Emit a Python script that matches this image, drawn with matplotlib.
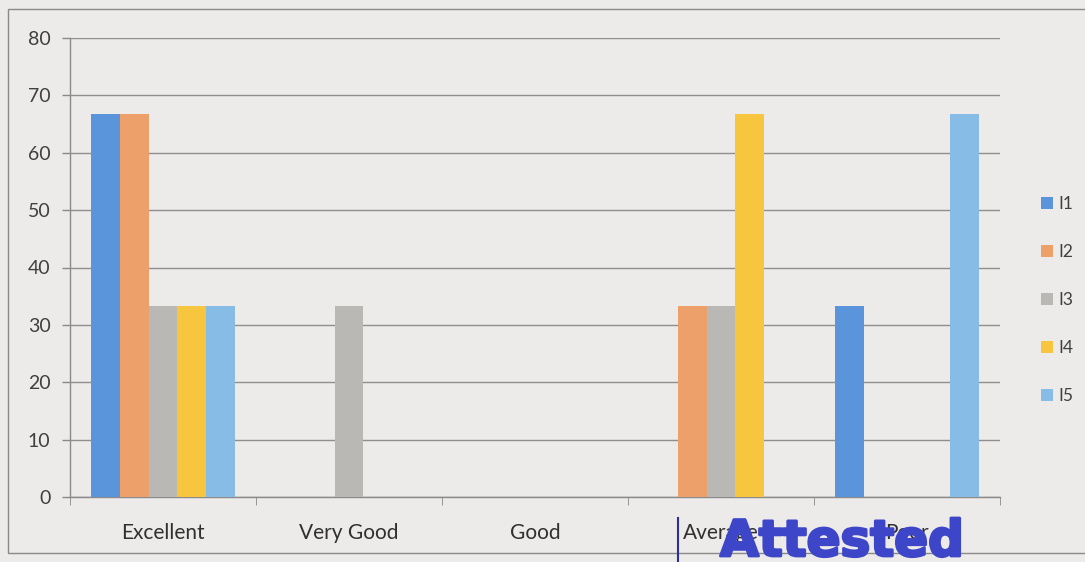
import matplotlib
matplotlib.use('Agg')
import matplotlib.pyplot as plt
import matplotlib.patheffects as pe
from matplotlib.patches import Rectangle, Patch
import numpy as np

plt.rcParams['font.family'] = ['Lato', 'DejaVu Sans']

categories = ["Excellent", "Very Good", "Good", "Average", "Poor"]
series_names = ["I1", "I2", "I3", "I4", "I5"]
# one list per series, values per category (percent)
i1 = [66.7, 0, 0, 0, 33.3]
i2 = [66.7, 0, 0, 33.3, 0]
i3 = [33.3, 33.3, 0, 33.3, 0]
i4 = [33.3, 0, 0, 66.7, 0]
i5 = [33.3, 0, 0, 0, 66.7]
series_values = [i1, i2, i3, i4, i5]

colors = ["#5a95dc", "#eea06a", "#bab8b4", "#f7c63e", "#86bce6"]

fig = plt.figure(figsize=(10.85, 5.62), dpi=100, facecolor='#ecebe9')
ax = fig.add_axes([70 / 1085, 65 / 562, 930 / 1085, 459 / 562])
ax.set_facecolor('none')

# outer chart frame
fig.patches.append(Rectangle((8 / 1085, 9 / 562), 1090 / 1085, 544 / 562,
                             transform=fig.transFigure, fill=False,
                             edgecolor='#8a8a8a', linewidth=1.0))

x = np.arange(len(categories))
bar_w = 1 / 6.5
for k, (name, vals) in enumerate(zip(series_names, series_values)):
    offset = (k - 2) * bar_w
    ax.bar(x + offset, vals, bar_w, color=colors[k], label=name,
           linewidth=0, zorder=3)

ax.set_xlim(-0.5, len(categories) - 0.5)
ax.set_ylim(0, 80)
ax.set_yticks(range(0, 81, 10))
ax.tick_params(axis='y', labelsize=14, colors='#404040', length=6,
               width=1, pad=8)
ax.tick_params(axis='y', color='#8a8a8a')
ax.set_xticks(x)
ax.set_xticklabels(categories)
ax.tick_params(axis='x', which='major', length=0, pad=19, labelsize=15,
               labelcolor='#303030')
ax.set_xticks(np.arange(-0.5, len(categories), 1.0), minor=True)
ax.tick_params(axis='x', which='minor', length=6, color='#8a8a8a')

ax.grid(axis='y', color='#8f8f8f', linewidth=1.0, zorder=0)
for s in ['top', 'right']:
    ax.spines[s].set_visible(False)
for s in ['left', 'bottom']:
    ax.spines[s].set_color('#8a8a8a')
    ax.spines[s].set_linewidth(1.0)

handles = [Patch(facecolor=c, label=n) for c, n in zip(colors, series_names)]
fig.legend(handles=handles, loc='center left',
           bbox_to_anchor=(1025 / 1085, 1 - 300 / 562), frameon=False,
           fontsize=12.5, handlelength=0.7, handleheight=0.7,
           handletextpad=0.3, labelspacing=1.85, labelcolor='#404040')

# stamp over the lower labels
fig.text(842 / 1085, 1 - 556 / 562, "Attested", ha='center', va='baseline',
         fontsize=36, fontweight='bold', color='#3d45c8',
         family='DejaVu Sans', zorder=10,
         path_effects=[pe.withStroke(linewidth=2, foreground='#3d45c8')])
fig.add_artist(plt.Line2D([678 / 1085, 678 / 1085], [0, 44 / 562],
                          transform=fig.transFigure, color='#2a2f9a',
                          linewidth=1.5))

fig.savefig('out.png', dpi=100, facecolor=fig.get_facecolor())
